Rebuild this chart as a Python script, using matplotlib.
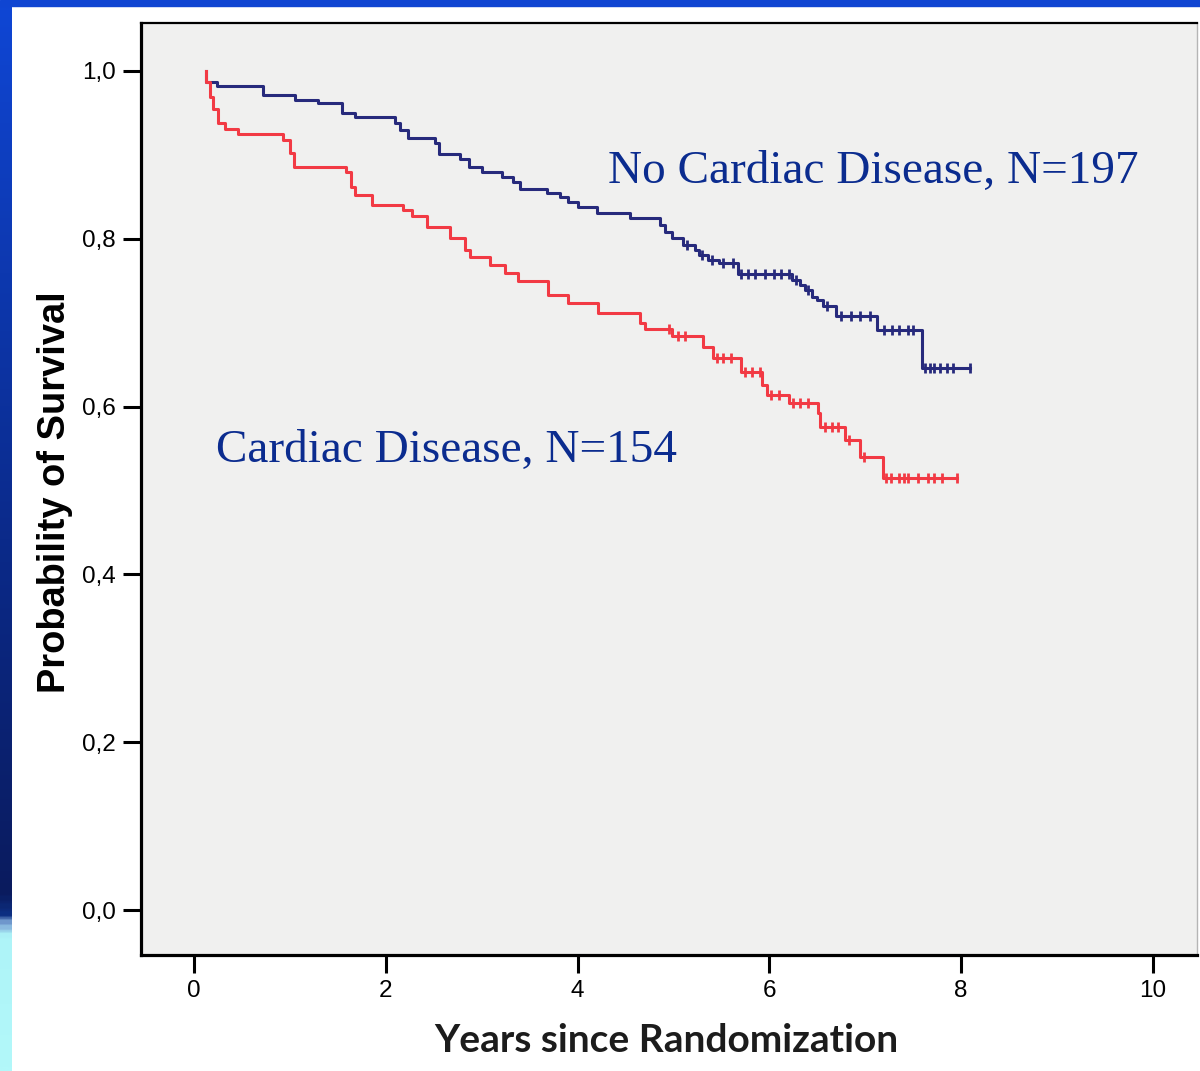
import numpy as np
import matplotlib.pyplot as plt
from matplotlib.patches import Rectangle
from matplotlib.colors import LinearSegmentedColormap

# Kaplan-Meier step data: event times (years) and survival after each step
no_cardiac_t = [0.12, 0.12, 0.24, 0.72, 1.05, 1.29, 1.54, 1.68, 2.10, 2.15, 2.23,
                2.51, 2.56, 2.77, 2.87, 3.00, 3.21, 3.33, 3.40, 3.68, 3.82, 3.90,
                4.00, 4.20, 4.55, 4.86, 4.91, 4.98, 5.10, 5.22, 5.27, 5.36, 5.48,
                5.67, 6.24, 6.32, 6.37, 6.45, 6.50, 6.56, 6.69, 7.12, 7.59, 8.09]
no_cardiac_s = [1.000, 0.987, 0.982, 0.971, 0.965, 0.962, 0.950, 0.945, 0.938, 0.930,
                0.920, 0.914, 0.901, 0.895, 0.886, 0.880, 0.874, 0.867, 0.859, 0.855,
                0.850, 0.844, 0.838, 0.831, 0.825, 0.816, 0.808, 0.801, 0.793, 0.787,
                0.781, 0.775, 0.771, 0.758, 0.751, 0.745, 0.739, 0.731, 0.727, 0.720,
                0.708, 0.691, 0.646, 0.646]
no_cardiac_cens = [5.14, 5.30, 5.40, 5.52, 5.62, 5.70, 5.78, 5.85, 5.95, 6.05, 6.12,
                   6.20, 6.28, 6.40, 6.60, 6.75, 6.85, 6.95, 7.05, 7.20, 7.28, 7.35,
                   7.45, 7.50, 7.62, 7.68, 7.72, 7.78, 7.85, 7.92, 8.09]

cardiac_t = [0.12, 0.13, 0.17, 0.20, 0.25, 0.32, 0.46, 0.93, 1.00, 1.04, 1.59, 1.64,
             1.68, 1.86, 2.18, 2.27, 2.43, 2.67, 2.83, 2.88, 3.09, 3.24, 3.38, 3.69,
             3.90, 4.21, 4.65, 4.70, 4.98, 5.31, 5.41, 5.70, 5.92, 5.98, 6.21, 6.51,
             6.53, 6.79, 6.95, 7.19, 7.96]
cardiac_s = [1.000, 0.987, 0.969, 0.954, 0.938, 0.931, 0.925, 0.918, 0.902, 0.886,
             0.880, 0.861, 0.852, 0.840, 0.834, 0.827, 0.814, 0.801, 0.787, 0.778,
             0.769, 0.759, 0.749, 0.733, 0.723, 0.712, 0.700, 0.692, 0.684, 0.671,
             0.658, 0.641, 0.626, 0.614, 0.604, 0.592, 0.576, 0.560, 0.540, 0.515,
             0.515]
cardiac_cens = [4.95, 5.05, 5.12, 5.45, 5.52, 5.60, 5.75, 5.82, 5.90, 6.02, 6.10,
                6.25, 6.32, 6.40, 6.58, 6.65, 6.72, 6.83, 6.99, 7.22, 7.27, 7.35,
                7.40, 7.45, 7.55, 7.65, 7.72, 7.80, 7.96]

x_ticks = [0, 2, 4, 6, 8, 10]
y_ticks = [0.0, 0.2, 0.4, 0.6, 0.8, 1.0]
y_tick_labels = ['0,0', '0,2', '0,4', '0,6', '0,8', '1,0']

BLUE = '#272a7c'
RED = '#f23a44'
TEXT = '#0b2c8f'


def surv_at(t, times, surv):
    idx = np.searchsorted(times, t, side='right') - 1
    return np.asarray(surv)[idx]


fig = plt.figure(figsize=(12, 10.71), dpi=100)
fig.patch.set_facecolor('white')

# slide decoration: blue band on top, gradient strip on the left
fig.patches.append(Rectangle((0, 1 - 6 / 1071), 1, 6 / 1071, transform=fig.transFigure,
                             color='#0f45d2', zorder=0))
strip = fig.add_axes([0, 0, 12 / 1200, 1 - 6 / 1071])
strip_cmap = LinearSegmentedColormap.from_list(
    'strip', [(0.0, '#b2f8fa'), (0.125, '#aef4f8'), (0.136, '#7fa8d8'),
              (0.145, '#0d2f82'), (0.165, '#0a1b5e'), (0.5, '#0b2a8a'),
              (1.0, '#0f46d4')])
strip.imshow(np.linspace(0, 1, 400).reshape(-1, 1), aspect='auto', cmap=strip_cmap,
             origin='lower', extent=[0, 1, 0, 1])
strip.axis('off')

ax = fig.add_axes([141 / 1200, 116 / 1071, 1056 / 1200, 932 / 1071])
ax.set_facecolor('#f0f0ef')

ax.step(no_cardiac_t, no_cardiac_s, where='post', color=BLUE, lw=2.2)
ax.step(cardiac_t, cardiac_s, where='post', color=RED, lw=2.2)
ax.plot(no_cardiac_cens, surv_at(no_cardiac_cens, no_cardiac_t, no_cardiac_s),
        ls='none', marker='|', ms=7, mew=2.0, color=BLUE)
ax.plot(cardiac_cens, surv_at(cardiac_cens, cardiac_t, cardiac_s),
        ls='none', marker='|', ms=7, mew=2.0, color=RED)

ax.text(4.317, 0.8665, 'No Cardiac Disease, N=197', family='Liberation Serif',
        fontsize=34, color=TEXT, va='baseline', ha='left')
ax.text(0.229, 0.534, 'Cardiac Disease, N=154', family='Liberation Serif',
        fontsize=34, color=TEXT, va='baseline', ha='left')

ax.set_xlim(-0.553, 10.46)
ax.set_ylim(-0.0536, 1.057)
ax.set_xticks(x_ticks)
ax.set_yticks(y_ticks)
ax.set_yticklabels(y_tick_labels)
ax.tick_params(length=13, width=2.2, pad=5, labelsize=17.5, colors='black')
for lbl in ax.get_xticklabels() + ax.get_yticklabels():
    lbl.set_family('Liberation Sans')

for side in ['left', 'bottom']:
    ax.spines[side].set_linewidth(2.3)
ax.spines['top'].set_linewidth(1.6)
ax.spines['right'].set_linewidth(1.0)
ax.spines['right'].set_color('#b5b5b5')

fig.text(55 / 1200, 1 - 492 / 1071, 'Probability of Survival', rotation=90,
         family='Liberation Sans', weight='bold', fontsize=27.4,
         ha='center', va='center')
fig.text(666 / 1200, 1 - 1041 / 1071, 'Years since Randomization', family='Lato',
         weight='bold', fontsize=28, color='#1c1c1c', ha='center', va='center')

fig.savefig('out.png', dpi=100)
